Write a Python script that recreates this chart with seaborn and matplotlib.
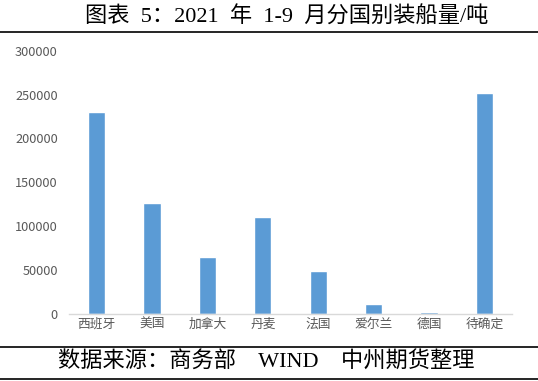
import pandas as pd
import seaborn as sns
import matplotlib.pyplot as plt
from matplotlib.lines import Line2D

countries = ['西班牙', '美国', '加拿大', '丹麦', '法国', '爱尔兰', '德国', '待确定']
tons = [230000, 126000, 65000, 110000, 49000, 11500, 2300, 252000]
yticks = [0, 50000, 100000, 150000, 200000, 250000, 300000]

title = '图表  5：2021  年  1-9  月分国别装船量/吨'
source = '数据来源：商务部    WIND    中州期货整理'

sns.set_style('white')
plt.rcParams['font.family'] = ['Noto Sans CJK SC', 'DejaVu Sans']
head_font = ['Liberation Serif', 'Noto Sans CJK SC']

df = pd.DataFrame({'country': countries, 'tons': tons})

fig = plt.figure(figsize=(5.38, 3.81), dpi=100)
ax = fig.add_axes([0.128, 0.176, 0.824, 0.691])
sns.barplot(data=df, x='country', y='tons', color='#5B9BD5', saturation=1,
            width=0.31, ax=ax)

ax.set_ylim(0, 300000)
ax.set_yticks(yticks)
ax.set_yticklabels([str(v) for v in yticks])
ax.set_xlabel('')
ax.set_ylabel('')
ax.tick_params(axis='both', length=0, labelsize=9.2, labelcolor='#595959')
ax.tick_params(axis='y', pad=8)
ax.tick_params(axis='x', pad=3)
for side in ['top', 'right', 'left']:
    ax.spines[side].set_visible(False)
ax.spines['bottom'].set_color('#D9D9D9')
ax.spines['bottom'].set_linewidth(1)

fig.text(0.532, 0.956, title, ha='center', va='center', fontsize=16,
         color='black', family=head_font)
fig.text(0.494, 0.050, source, ha='center', va='center', fontsize=16,
         color='black', family=head_font)
for y in [0.916, 0.089, 0.005]:
    fig.add_artist(Line2D([0, 1], [y, y], transform=fig.transFigure, color='black', lw=1.2))

fig.savefig('out.png', dpi=100)
